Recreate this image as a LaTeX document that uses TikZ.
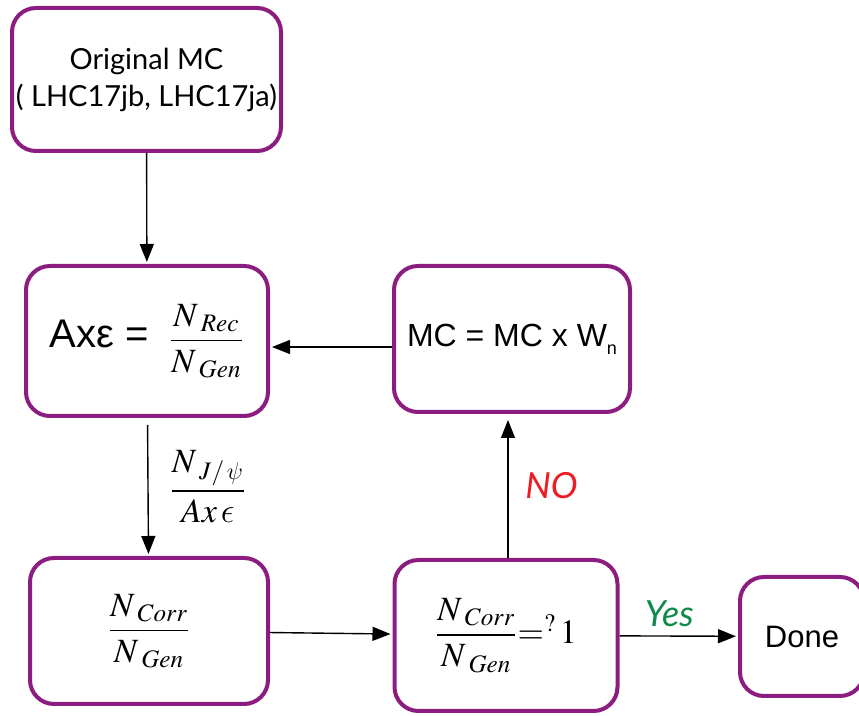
\documentclass[tikz,border=0pt]{standalone}
\usepackage{amsmath}
\usepackage{mathptmx}
\usepackage[no-math]{fontspec}
\setmainfont{Liberation Sans}
\newfontfamily\lato{Lato}
\DeclareSymbolFont{cmletters}{OML}{cmm}{m}{it}
\DeclareMathSymbol{\lunateeps}{\mathord}{cmletters}{"0F}
\DeclareMathSymbol{\slpsi}{\mathord}{cmletters}{"20}
\usetikzlibrary{arrows.meta}
\definecolor{mcpurple}{RGB}{140,29,128}
\definecolor{nored}{RGB}{236,28,36}
\definecolor{yesgreen}{RGB}{14,138,74}
\begin{document}
\begin{tikzpicture}[x=0.5pt,y=-0.5pt,
  box/.style={draw=mcpurple,line width=2pt,rounded corners=12pt,align=center,fill=white,inner sep=0pt},
  arr/.style={-{Triangle[length=9pt,width=7pt]},line width=0.7pt,shorten >=1pt},
  mathtxt/.style={font=\fontsize{17}{20}\selectfont},
  answer/.style={font=\lato\itshape\fontsize{18}{21}\selectfont}]
\useasboundingbox (0,0) rectangle (859,716);
\clip (0,0) rectangle (859,716);
\node[box,minimum width=134.5pt,minimum height=71.5pt,font=\lato\fontsize{14.5}{18.5}\selectfont] (orig) at (146.5,79.5) {Original MC\\( LHC17jb, LHC17ja)};
\node[box,minimum width=121pt,minimum height=75pt,mathtxt] (acc) at (147,341) {\raisebox{-2pt}{\fontsize{20}{23}\selectfont Axε =}\hspace{10pt}\raisebox{-3pt}{$\dfrac{N_{\;Rec}}{N_{\;Gen}}$}};
\node[box,minimum width=118pt,minimum height=73pt,font=\fontsize{16}{19}\selectfont] (upd) at (512,339) {MC = MC x W\raisebox{-4pt}{\fontsize{9}{10}\selectfont n}};
\node[box,minimum width=119pt,minimum height=73pt,mathtxt] (corr) at (149,631) {$\dfrac{N_{\;Corr}}{N_{\;Gen}}$};
\node[box,minimum width=111.5pt,minimum height=75.5pt,mathtxt] (test) at (506,635.5) {$\dfrac{N_{\;Corr}}{N_{\;Gen}}{=}^{?}\,1$};
\node[box,minimum width=62pt,minimum height=59.5pt,font=\fontsize{15.5}{18}\selectfont] (done) at (802,636.5) {Done};
\draw[arr] (orig) -- (acc);
\draw[arr] ([yshift=-4pt]upd.west) -- ([yshift=-3pt]acc.east);
\draw[arr,shorten <=3.5pt] (acc) -- (corr) node[midway,right=7pt,mathtxt] {$\dfrac{N_{\;J/\,\slpsi}}{Ax\,\lunateeps}$};
\draw[arr] (corr) -- (test);
\draw[arr,shorten >=3pt] ([xshift=1pt]test.north) -- ([xshift=1pt]test.north |- upd.south) node[midway,right=5pt,answer,text=nored] {NO};
\draw[arr] (test) -- (done) node[pos=0.42,above=1pt,answer,text=yesgreen] {Yes};
\end{tikzpicture}
\end{document}
